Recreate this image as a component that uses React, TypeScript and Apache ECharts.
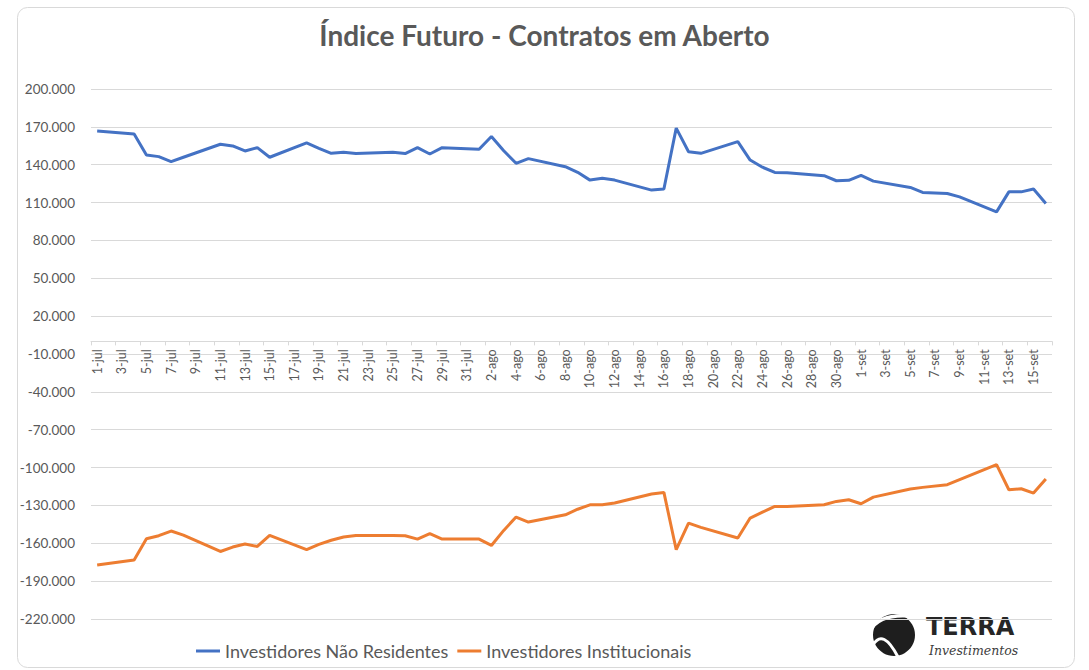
import React, { useEffect, useRef } from "react";
import * as echarts from "echarts";

const MONTHS = [
  { name: "jul", days: 31 },
  { name: "ago", days: 31 },
  { name: "set", days: 16 },
];
const categories: string[] = MONTHS.flatMap((m) =>
  Array.from({ length: m.days }, (_, i) => `${i + 1}-${m.name}`)
);

const SERIES_NAMES = ["Investidores Não Residentes", "Investidores Institucionais"];

// one value per calendar day, null on weekends / holidays
const naoResidentes: (number | null)[] = [
  166800, null, null, 164400, 147700, 146400, 142400, 145900, null, null,
  156200, 154900, 150900, 153500, 145900, null, null, 157300, 153000, 149000,
  149800, 148800, null, null, 149800, 148800, 153500, 148500, 153500, null,
  null, 152200, 162300, 151100, 141100, 144800, null, null, 138400, 134000,
  127800, 129200, 127800, null, null, 119900, 120700, 169000, 150300, 149000,
  null, null, 158300, 143700, 138000, 133900, 133700, null, null, 131300,
  127300, 127600, 131500, 127000, null, null, 122000, 118000, null, 117200,
  114500, null, null, 102600, 118500, 118500, 120700, 109300,
];

const institucionais: (number | null)[] = [
  -177200, null, null, -173300, -156400, -154000, -150300, -153500, null, null,
  -166500, -163000, -160600, -162500, -153800, null, null, -165100, -160900, -157600,
  -155000, -153800, null, null, -153800, -154000, -156700, -152400, -156700, null,
  null, -156700, -161700, -149800, -139200, -143200, null, null, -137400, -133000,
  -129500, -129500, -128100, null, null, -121000, -119700, -165100, -144000, -147400,
  null, null, -155800, -140000, -135300, -130800, -130800, null, null, -129500,
  -126800, -125500, -128700, -123400, null, null, -117000, -115700, null, -113600,
  -109600, null, null, -97700, -117600, -116800, -120200, -109100,
];

const Y_MIN = -220000;
const Y_MAX = 200000;
const Y_STEP = 30000;

const GRID_TOP = 89;
const GRID_BOTTOM = 51;
const HEIGHT = 670;

const fmt = (v: number) => {
  const s = Math.abs(Math.round(v))
    .toString()
    .replace(/\B(?=(\d{3})+(?!\d))/g, ".");
  return (v < 0 ? "-" : "") + s;
};

export default function App() {
  const ref = useRef<HTMLDivElement>(null);

  useEffect(() => {
    document.body.style.margin = "0";
    if (!ref.current) return;
    const chart = echarts.init(ref.current, undefined, { renderer: "svg" });
    const gray = "#595959";
    const grid = "#d9d9d9";
    // move the category axis up to the value 0 of the value axis
    const plotH = HEIGHT - GRID_TOP - GRID_BOTTOM;
    const zeroFromBottom = ((0 - Y_MIN) / (Y_MAX - Y_MIN)) * plotH;
    chart.setOption({
      animation: false,
      backgroundColor: "#ffffff",
      title: {
        text: "Índice Futuro - Contratos em Aberto",
        left: "center",
        top: 21,
        padding: 0,
        textStyle: {
          fontFamily: "Lato",
          fontWeight: "bold",
          fontSize: 28,
          color: gray,
        },
      },
      grid: {
        left: 91,
        right: 37,
        top: GRID_TOP,
        bottom: GRID_BOTTOM,
        containLabel: false,
        outerBoundsMode: "none",
      },
      legend: {
        data: SERIES_NAMES,
        left: 196,
        top: 642,
        padding: 0,
        icon: "rect",
        itemWidth: 24,
        itemHeight: 3,
        itemGap: 9,
        textStyle: { fontFamily: "Lato", fontSize: 18, color: gray },
      },
      xAxis: {
        type: "category",
        data: categories,
        boundaryGap: true,
        offset: -zeroFromBottom,
        axisLine: { onZero: false, lineStyle: { color: grid, width: 1 } },
        axisTick: {
          show: true,
          interval: 1,
          length: 4,
          lineStyle: { color: grid },
        },
        axisLabel: {
          interval: 1,
          rotate: 90,
          margin: 8,
          color: gray,
          fontFamily: "Lato",
          fontSize: 12.5,
        },
        splitLine: { show: false },
      },
      yAxis: {
        type: "value",
        min: Y_MIN,
        max: Y_MAX,
        interval: Y_STEP,
        axisLine: { show: false },
        axisTick: { show: false },
        axisLabel: {
          formatter: (v: number) => fmt(v),
          color: gray,
          fontFamily: "Lato",
          fontSize: 13.5,
          margin: 16,
        },
        splitLine: {
          show: true,
          showMinLine: true,
          showMaxLine: true,
          lineStyle: { color: grid, width: 1 },
        },
      },
      series: [
        {
          name: SERIES_NAMES[0],
          type: "line",
          data: naoResidentes,
          connectNulls: true,
          symbol: "none",
          color: "#4472C4",
          lineStyle: { width: 3, color: "#4472C4" },
        },
        {
          name: SERIES_NAMES[1],
          type: "line",
          data: institucionais,
          connectNulls: true,
          symbol: "none",
          color: "#ED7D31",
          lineStyle: { width: 3, color: "#ED7D31" },
        },
      ],
      graphic: [
        {
          type: "rect",
          z: 100,
          silent: true,
          shape: { x: 17.5, y: 7.5, width: 1057, height: 660, r: 10 },
          style: { fill: "none", stroke: "#d9d9d9", lineWidth: 1 },
        },
        {
          type: "group",
          z: 100,
          children: [
            {
              type: "rect",
              shape: { x: 862, y: 604, width: 173, height: 60 },
              style: { fill: "#ffffff" },
            },
            {
              type: "circle",
              shape: { cx: 894, cy: 635, r: 21 },
              style: { fill: "#1e1e1e" },
            },
            {
              type: "bezierCurve",
              shape: { x1: 870, y1: 631, cpx1: 879, cpy1: 614, x2: 909, y2: 616 },
              style: { stroke: "#ffffff", lineWidth: 3.5, fill: "none" },
            },
            {
              type: "bezierCurve",
              shape: { x1: 873, y1: 645, cpx1: 883, cpy1: 628, x2: 898, y2: 657 },
              style: { stroke: "#ffffff", lineWidth: 3, fill: "none" },
            },
            {
              type: "text",
              style: {
                text: "TERRA",
                x: 926,
                y: 627,
                verticalAlign: "middle",
                font: "bold 24px 'DejaVu Sans'",
                fill: "#262626",
              },
            },
            {
              type: "text",
              style: {
                text: "Investimentos",
                x: 929,
                y: 650,
                verticalAlign: "middle",
                font: "italic 12.5px 'DejaVu Serif'",
                fill: "#404040",
              },
            },
          ],
        },
      ],
    });
    return () => chart.dispose();
  }, []);

  return <div ref={ref} style={{ width: 1089, height: 670 }} />;
}
